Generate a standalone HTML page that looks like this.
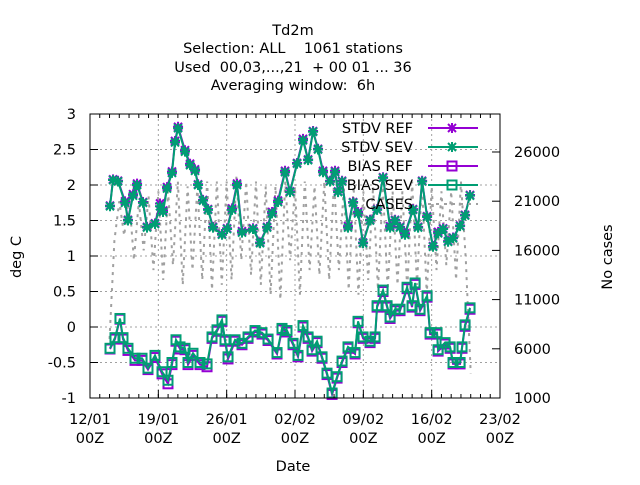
<!DOCTYPE html>
<html><head><meta charset="utf-8"><style>
body{margin:0;background:#fff}
svg text{font-family:"DejaVu Sans","Liberation Sans",sans-serif;font-size:14.5px;fill:#000;white-space:pre}
</style></head><body>
<svg id="chart" width="640" height="480" xmlns="http://www.w3.org/2000/svg">
<g text-anchor="middle">
<text x="293" y="35">Td2m</text>
<text x="293" y="53" xml:space="preserve">Selection: ALL    1061 stations</text>
<text x="293" y="72" xml:space="preserve">Used  00,03,...,21  + 00 01 ... 36</text>
<text x="293" y="90" xml:space="preserve">Averaging window:  6h</text>
</g>
<g id="grid"></g>
<g id="series"></g>
<g id="axes"></g>
<text x="0" y="0" text-anchor="middle" transform="translate(21,257) rotate(-90)">deg C</text>
<text x="0" y="0" text-anchor="middle" transform="translate(612,257) rotate(-90)">No cases</text>
<text x="293" y="471" text-anchor="middle">Date</text>
<g id="legend"></g>
</svg>
<script>
const xTickLabels=["12/01","19/01","26/01","02/02","09/02","16/02","23/02"];
const yTicks=[-1,-0.5,0,0.5,1,1.5,2,2.5,3];
const y2Ticks=[1000,6000,11000,16000,21000,26000];
const stdvDays=[2.05,2.36,2.87,3.59,3.89,4.41,4.82,5.43,5.84,6.66,7.17,7.48,7.89,8.40,8.71,9.02,9.73,10.25,10.76,11.07,11.58,12.09,12.60,13.52,14.04,14.55,15.06,15.57,16.70,17.42,18.14,18.65,19.26,19.98,20.49,21.21,21.82,22.34,22.85,23.36,23.87,24.59,25.10,25.41,25.82,26.43,26.95,27.46,27.97,28.69,29.41,30.02,30.74,31.25,31.76,32.27,33.09,33.61,34.02,34.53,35.14,35.66,36.17,36.68,37.19,37.91,38.42,38.93];
const stdvSev=[1.70,2.07,2.05,1.75,1.5,1.85,2.0,1.75,1.4,1.45,1.70,1.62,1.95,2.17,2.6,2.8,2.47,2.28,2.2,2.0,1.78,1.65,1.4,1.3,1.38,1.65,2.0,1.33,1.38,1.18,1.4,1.6,1.76,2.18,1.9,2.3,2.63,2.35,2.75,2.5,2.18,2.05,2.18,1.9,2.05,1.4,1.75,1.6,1.18,1.5,1.65,2.1,1.4,1.5,1.4,1.3,1.65,1.4,2.05,1.55,1.13,1.32,1.38,1.2,1.25,1.42,1.57,1.85];
const stdvRef=[1.71,2.08,2.06,1.77,1.51,1.87,2.02,1.76,1.41,1.46,1.74,1.64,1.97,2.19,2.62,2.82,2.49,2.30,2.22,2.01,1.79,1.66,1.41,1.31,1.39,1.67,2.02,1.35,1.39,1.19,1.41,1.62,1.78,2.20,1.91,2.31,2.65,2.36,2.76,2.51,2.20,2.06,2.20,1.91,2.06,1.42,1.76,1.62,1.19,1.51,1.66,2.11,1.42,1.51,1.41,1.32,1.66,1.41,2.06,1.56,1.14,1.34,1.39,1.21,1.26,1.43,1.58,1.86];
const biasDays=[2.05,2.56,3.07,3.38,3.89,4.61,5.33,5.94,6.66,7.38,7.99,8.40,8.81,9.22,9.73,10.04,10.55,11.27,11.99,12.50,13.01,13.52,13.83,14.14,14.86,15.57,16.19,16.91,17.62,18.24,19.16,19.67,20.18,20.80,21.31,21.82,22.34,22.75,23.26,23.77,24.28,24.80,25.31,25.82,26.43,27.15,27.46,27.97,28.69,29.20,29.41,30.02,30.43,30.74,31.25,31.76,32.48,32.99,33.30,33.81,34.53,34.84,35.55,35.66,36.37,36.89,37.19,37.91,38.11,38.42,38.93];
const biasSev=[-0.3,-0.15,0.12,-0.15,-0.3,-0.44,-0.44,-0.58,-0.4,-0.63,-0.75,-0.5,-0.18,-0.28,-0.3,-0.5,-0.37,-0.5,-0.52,-0.14,-0.04,0.1,-0.18,-0.42,-0.18,-0.23,-0.14,-0.05,-0.08,-0.17,-0.36,-0.02,-0.05,-0.23,-0.4,0.02,-0.14,-0.32,-0.2,-0.42,-0.65,-0.93,-0.7,-0.48,-0.28,-0.36,0.08,-0.14,-0.2,-0.14,0.3,0.52,0.3,0.14,0.25,0.25,0.56,0.3,0.62,0.25,0.44,-0.08,-0.08,-0.32,-0.22,-0.28,-0.5,-0.5,-0.28,0.03,0.27];
const biasRef=[-0.31,-0.17,0.11,-0.17,-0.33,-0.47,-0.47,-0.6,-0.43,-0.66,-0.8,-0.53,-0.2,-0.31,-0.32,-0.53,-0.4,-0.53,-0.56,-0.16,-0.06,0.08,-0.2,-0.45,-0.2,-0.25,-0.16,-0.07,-0.1,-0.19,-0.38,-0.04,-0.07,-0.25,-0.42,0.0,-0.16,-0.34,-0.22,-0.44,-0.67,-0.95,-0.72,-0.5,-0.3,-0.38,0.06,-0.16,-0.22,-0.16,0.28,0.5,0.28,0.12,0.23,0.23,0.54,0.28,0.6,0.23,0.42,-0.1,-0.1,-0.34,-0.24,-0.3,-0.52,-0.52,-0.3,0.01,0.25];
const caseStartDay=2, caseStepDays=0.5;
const cases=[7000,17000,21000,17500,21500,15000,21000,16000,21500,14000,22000,13000,22000,14500,23000,12500,22500,14000,22500,13000,23000,12000,23000,12500,23000,13000,23500,15000,23000,13500,23000,12500,22500,11500,22500,11000,23000,15000,22500,11500,23000,14000,22500,13500,23000,13000,23000,14000,22500,12000,22500,11500,22000,13000,22500,12000,22500,12000,22000,12500,22000,12000,23000,12500,23000,11500,22500,14000,22000,14500,22000,13000,23000,15000,3500];

const NS="http://www.w3.org/2000/svg";
const L=90,R=500,T=114,B=398,DAYS=42;
const xS=d=>L+d*(R-L)/DAYS;
const yS=v=>B-(v+1)*(B-T)/4;
const y2S=v=>B-(v-1000)*(B-T)/28860;
function mk(p,tag,a){const e=document.createElementNS(NS,tag);for(const k in a)e.setAttribute(k,a[k]);p.appendChild(e);return e;}
const grid=document.getElementById('grid'),axes=document.getElementById('axes'),ser=document.getElementById('series'),leg=document.getElementById('legend');
yTicks.forEach(v=>{if(v>-1&&v<3){const g=mk(grid,'line',{x1:L,x2:R,y1:yS(v),y2:yS(v),stroke:'#a0a0a0','stroke-dasharray':'2,3'});

}});
xTickLabels.forEach((t,i)=>{const x=xS(i*7);if(i>0&&i<6){const g=mk(grid,'line',{x1:x,x2:x,y1:T,y2:B,stroke:'#a0a0a0','stroke-dasharray':'2,3'});

}});
const fr=mk(axes,'rect',{x:L,y:T,width:R-L,height:B-T,fill:'none',stroke:'#000'});


yTicks.forEach(v=>{const y=yS(v);mk(axes,'line',{x1:L,x2:L+8,y1:y,y2:y,stroke:'#000'});
const t=mk(axes,'text',{x:76,y:y+5,'text-anchor':'end'});t.textContent=v;

});
y2Ticks.forEach(v=>{const y=y2S(v);mk(axes,'line',{x1:R-8,x2:R,y1:y,y2:y,stroke:'#000'});
const t=mk(axes,'text',{x:514,y:y+5});t.textContent=v;

});
for(let d=1;d<DAYS;d++){const x=xS(d);mk(axes,'line',{x1:x,x2:x,y1:B,y2:B-4,stroke:'#000'});mk(axes,'line',{x1:x,x2:x,y1:T,y2:T+4,stroke:'#000'});}
xTickLabels.forEach((s,i)=>{const x=xS(i*7);mk(axes,'line',{x1:x,x2:x,y1:B,y2:B-8,stroke:'#000'});
const t=mk(axes,'text',{x:x,y:424,'text-anchor':'middle'});t.textContent=s;


const t2=mk(axes,'text',{x:x,y:443,'text-anchor':'middle'});t2.textContent='00Z';

});
const cp=cases.map((v,i)=>xS(caseStartDay+i*caseStepDays)+','+y2S(v)).join(' ');
const cl=mk(ser,'polyline',{points:cp,fill:'none',stroke:'#a0a0a0','stroke-width':2,'stroke-dasharray':'3,5'});


function star(g,x,y,c){mk(g,'path',{d:`M${x-5},${y}h10M${x},${y-5}v10M${x-4},${y-4}l8,8M${x-4},${y+4}l8,-8`,stroke:c,'stroke-width':2,fill:'none'});}
function box(g,x,y,c){mk(g,'rect',{x:x-4.5,y:y-4.5,width:9,height:9,fill:'none',stroke:c,'stroke-width':2});}
function series(days,vals,c,mkFn,name){const g=mk(ser,'g',{});


mk(g,'polyline',{points:days.map((d,i)=>xS(d)+','+yS(vals[i])).join(' '),fill:'none',stroke:c,'stroke-width':2});
days.forEach((d,i)=>mkFn(g,xS(d),yS(vals[i]),c));}
const P='#9400d3',G='#009e73';
series(stdvDays,stdvRef,P,star,'stdv-ref-series');
series(stdvDays,stdvSev,G,star,'stdv-sev-series');
series(biasDays,biasRef,P,box,'bias-ref-series');
series(biasDays,biasSev,G,box,'bias-sev-series');
const legItems=[['STDV REF',P,star],['STDV SEV',G,star],['BIAS REF',P,box],['BIAS SEV',G,box],['CASES','#a0a0a0',null]];
legItems.forEach((it,i)=>{const y=128+i*19;const g=mk(leg,'g',{});


const t=mk(g,'text',{x:413,y:y+5,'text-anchor':'end'});t.textContent=it[0];
if(it[2]){mk(g,'line',{x1:428,x2:478,y1:y,y2:y,stroke:it[1],'stroke-width':2});it[2](g,452,y,it[1]);}
else mk(g,'line',{x1:428,x2:478,y1:y,y2:y,stroke:it[1],'stroke-width':2,'stroke-dasharray':'3,5'});});
</script>
</body></html>
